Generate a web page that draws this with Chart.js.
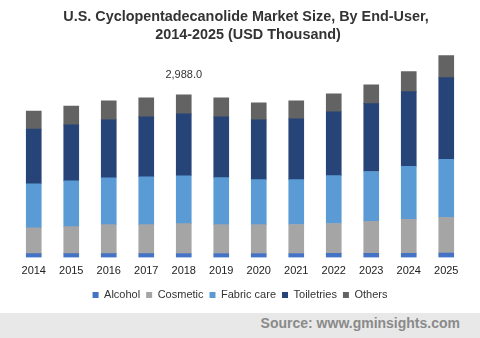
<!DOCTYPE html>
<html>
<head>
<meta charset="utf-8">
<script src="https://cdn.jsdelivr.net/npm/chart.js@4/dist/chart.umd.min.js"></script>
<style>
  html, body { margin: 0; padding: 0; background: #fff; }
  body { width: 480px; height: 338px; overflow: hidden; font-family: "Liberation Sans", Arial, sans-serif; }
  .chart__container { width: 480px; height: 313px; position: relative; }
  .source { height: 25px; background: #e8e8e8; text-align: right; font-weight: bold; font-size: 14px;
            color: #8a8a8a; line-height: 21px; padding-right: 20px; box-sizing: border-box; }
</style>
</head>
<body>
<div class="chart__container"><canvas id="chart"></canvas></div>
<div class="source">Source: www.gminsights.com</div>
<script>
// values (USD Thousand)
const years = ['2014', '2015', '2016', '2017', '2018', '2019', '2020', '2021', '2022', '2023', '2024', '2025'];
const alcohol = [70, 71, 72, 72, 73, 73, 73, 74, 75, 76, 78, 80];
const cosmetic = [477, 495, 532, 532, 550, 532, 532, 532, 550, 587, 623, 660];
const fabric_care = [807, 843, 862, 880, 880, 862, 825, 825, 880, 917, 972, 1063];
const toiletries = [1008, 1027, 1063, 1100, 1137, 1118, 1100, 1118, 1173, 1247, 1375, 1503];
const others = [330, 348, 348, 348, 348, 348, 312, 330, 330, 348, 367, 403];
const labelled_year = '2018';

const series = [
    { label: 'Alcohol', data: alcohol, color: '#4472c4' },
    { label: 'Cosmetic', data: cosmetic, color: '#a5a5a5' },
    { label: 'Fabric care', data: fabric_care, color: '#5b9bd5' },
    { label: 'Toiletries', data: toiletries, color: '#264478' },
    { label: 'Others', data: others, color: '#636363' }
];

const font_family = '"Liberation Sans", Arial, sans-serif';

// total label above one bar
const totalLabel = {
    id: 'totalLabel',
    afterDatasetsDraw(chart) {
        const i = years.indexOf(labelled_year);
        const last = chart.getDatasetMeta(chart.data.datasets.length - 1).data[i];
        const total = chart.data.datasets.reduce((s, d) => s + d.data[i], 0);
        const ctx = chart.ctx;
        ctx.save();
        ctx.font = '11px ' + font_family;
        ctx.fillStyle = '#333';
        ctx.textAlign = 'center';
        ctx.textBaseline = 'middle';
        ctx.fillText(total.toLocaleString('en-US', { minimumFractionDigits: 1, maximumFractionDigits: 1 }), last.x, last.y - 20);
        ctx.restore();
    }
};

new Chart(document.getElementById('chart'), {
    type: 'bar',
    data: {
        labels: years,
        datasets: series.map(s => ({
            label: s.label,
            data: s.data,
            backgroundColor: s.color,
            borderWidth: 0,
            barThickness: 15
        }))
    },
    options: {
        responsive: true,
        maintainAspectRatio: false,
        animation: false,
        layout: { padding: { left: 15, right: 15, bottom: 2.5 } },
        scales: {
            x: {
                stacked: true,
                grid: { display: false, drawTicks: false },
                border: { display: false },
                ticks: { color: '#222', font: { size: 11, family: font_family }, padding: 6.4, maxRotation: 0 }
            },
            y: {
                stacked: true,
                display: false,
                min: 0,
                max: 3800
            }
        },
        plugins: {
            title: {
                display: true,
                // leading spaces nudge the title a little right, as in the original
                text: ['   U.S. Cyclopentadecanolide Market Size, By End-User,', '    2014-2025 (USD Thousand)'],
                color: '#333',
                font: { size: 14.4, weight: 'bold', family: font_family, lineHeight: 1.25 },
                padding: { top: 8, bottom: 6.7 }
            },
            legend: {
                position: 'bottom',
                labels: {
                    boxWidth: 6,
                    boxHeight: 6,
                    padding: 6,
                    color: '#333',
                    font: { size: 11, family: font_family }
                }
            },
            tooltip: { enabled: false }
        }
    },
    plugins: [totalLabel]
});
</script>
</body>
</html>
